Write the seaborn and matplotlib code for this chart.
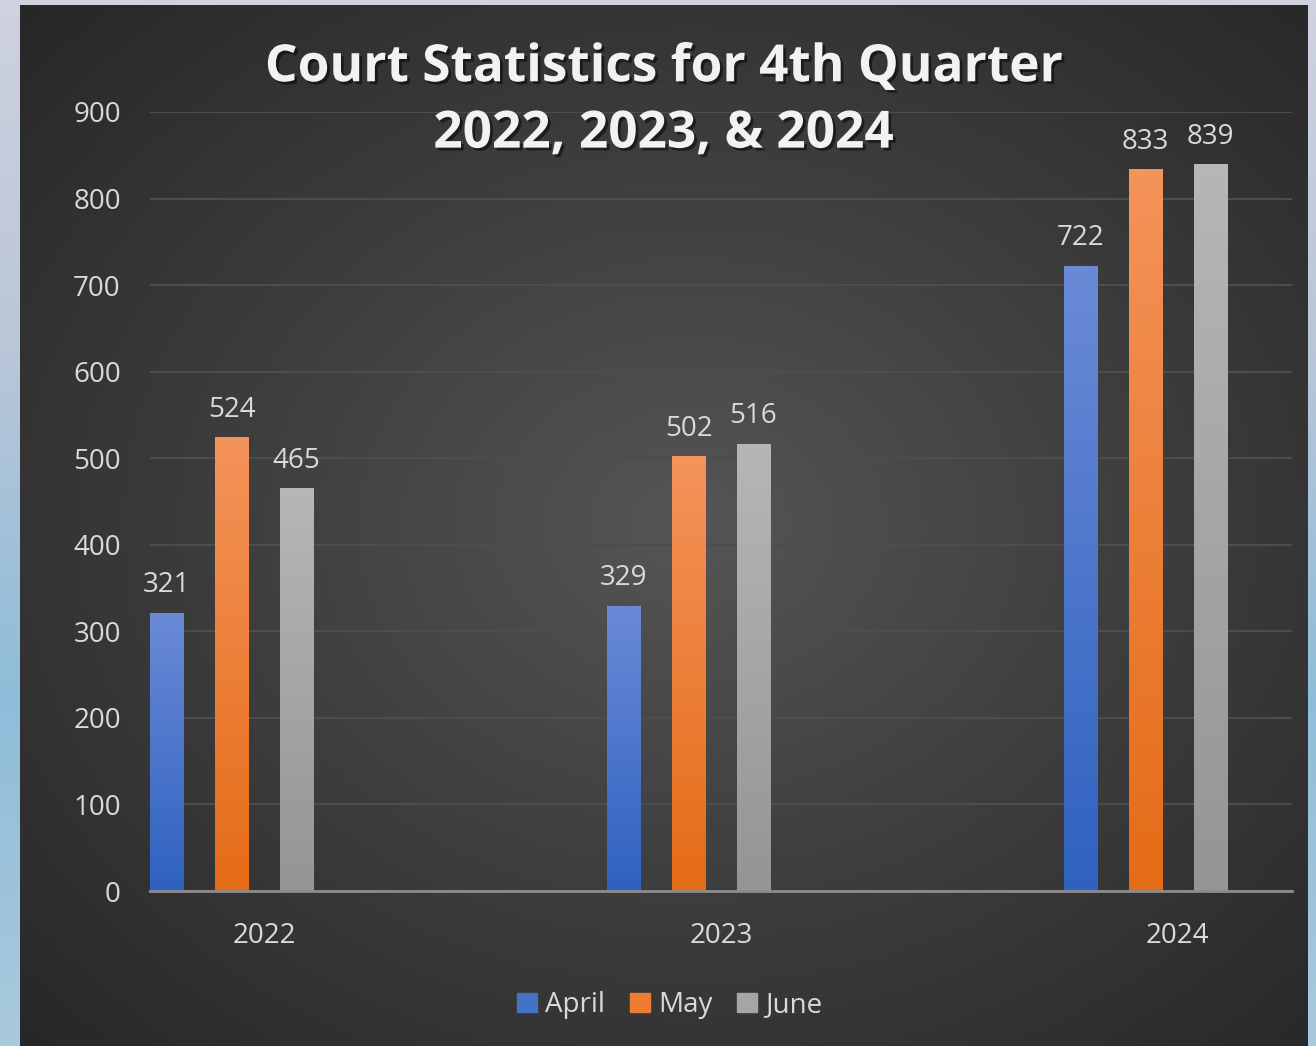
import numpy as np
import pandas as pd
import matplotlib
matplotlib.use('Agg')
import matplotlib.pyplot as plt
import matplotlib.patheffects as pe
from matplotlib.colors import LinearSegmentedColormap
import seaborn as sns

years = ['2022', '2023', '2024']
months = ['April', 'May', 'June']
april = [321, 329, 722]
may = [524, 502, 833]
june = [465, 516, 839]

# top / bottom colours of each bar gradient
bar_top = {'April': '#6a8ad6', 'May': '#f4935a', 'June': '#b6b6b6'}
bar_bottom = {'April': '#2f62c0', 'May': '#e56c17', 'June': '#959595'}
palette = {'April': '#4472c4', 'May': '#ed7d31', 'June': '#a5a5a5', ' ': '#000000'}

df = pd.DataFrame({'Year': years * 3,
                   'Month': [m for m in months for _ in years],
                   'Count': april + may + june})

sns.set_theme(style='dark')
plt.rcParams['font.family'] = ['Open Sans', 'DejaVu Sans']

fig = plt.figure(figsize=(13.16, 10.46), dpi=100)

# page background behind the chart panel
bg = fig.add_axes([0, 0, 1, 1], zorder=-3)
bg_cmap = LinearSegmentedColormap.from_list('bg', ['#cfd2df', '#b9c6d8', '#8fbdd9', '#a9c9dc'])
bg.imshow(np.linspace(0, 1, 256).reshape(-1, 1), aspect='auto', cmap=bg_cmap, extent=[0, 1, 0, 1])
bg.axis('off')

# dark panel with radial gradient
panel = fig.add_axes([20 / 1316, 0, 1288 / 1316, 1041 / 1046], zorder=-2)
yy, xx = np.mgrid[0:1:300j, 0:1:400j]
r = np.sqrt(((xx - 0.52) / 0.75) ** 2 + ((yy - 0.5) / 0.75) ** 2)
panel_cmap = LinearSegmentedColormap.from_list('panel', ['#555555', '#3d3d3d', '#272727'])
panel.imshow(np.clip(r, 0, 1), aspect='auto', cmap=panel_cmap, extent=[0, 1, 0, 1])
panel.axis('off')

ax = fig.add_axes([150 / 1316, 155 / 1046, 1142 / 1316, 779 / 1046])
ax.patch.set_alpha(0)

# a fourth, empty hue slot keeps the bars left of the category centre (as in the original)
sns.barplot(data=df, x='Year', y='Count', hue='Month', hue_order=months + [' '],
            palette=palette, width=0.569, gap=0.49, linewidth=0, ax=ax, legend=False)

# gradient fill on each bar
for container, m in zip(ax.containers, months):
    cmap = LinearSegmentedColormap.from_list(m, [bar_bottom[m], bar_top[m]])
    for bar in container:
        x0 = bar.get_x()
        w = bar.get_width()
        h = bar.get_height()
        bar.set_alpha(0)
        ax.imshow(np.linspace(0, 1, 100).reshape(-1, 1), cmap=cmap, origin='lower',
                  aspect='auto', extent=[x0, x0 + w, 0, h], zorder=3)
    ax.bar_label(container, padding=10, fontsize=20, color='#d9d9d9')

ax.set_xlim(-0.25, 2.25)
ax.set_ylim(0, 900)
ax.set_yticks(range(0, 901, 100))
ax.set_xlabel('')
ax.set_ylabel('')
ax.grid(axis='y', color='#4d4d4d', linewidth=1.5)
ax.grid(axis='x', visible=False)
for s in ['top', 'right', 'left']:
    ax.spines[s].set_visible(False)
ax.spines['bottom'].set_color('#8c8c8c')
ax.spines['bottom'].set_linewidth(2)
ax.spines['bottom'].set_zorder(4)
ax.tick_params(axis='y', length=0, pad=21, labelsize=20, labelcolor='#d9d9d9')
ax.tick_params(axis='x', length=0, pad=22, labelsize=20, labelcolor='#d9d9d9')

handles = [plt.Rectangle((0, 0), 1, 1, color=palette[m]) for m in months]
fig.legend(handles, months, loc='center', bbox_to_anchor=(0.509, 0.039), ncol=3,
           frameon=False, fontsize=20, labelcolor='#d9d9d9', handlelength=0.7,
           handleheight=0.7, handletextpad=0.3, columnspacing=0.9)

fig.text(0.504, 0.903, 'Court Statistics for 4th Quarter\n2022, 2023, & 2024',
         ha='center', va='center', fontsize=37, fontweight='bold', color='#f2f2f2',
         linespacing=1.43,
         path_effects=[pe.withSimplePatchShadow(offset=(2, -2), shadow_rgbFace='black', alpha=0.5)])

fig.savefig('out.png', dpi=100)
